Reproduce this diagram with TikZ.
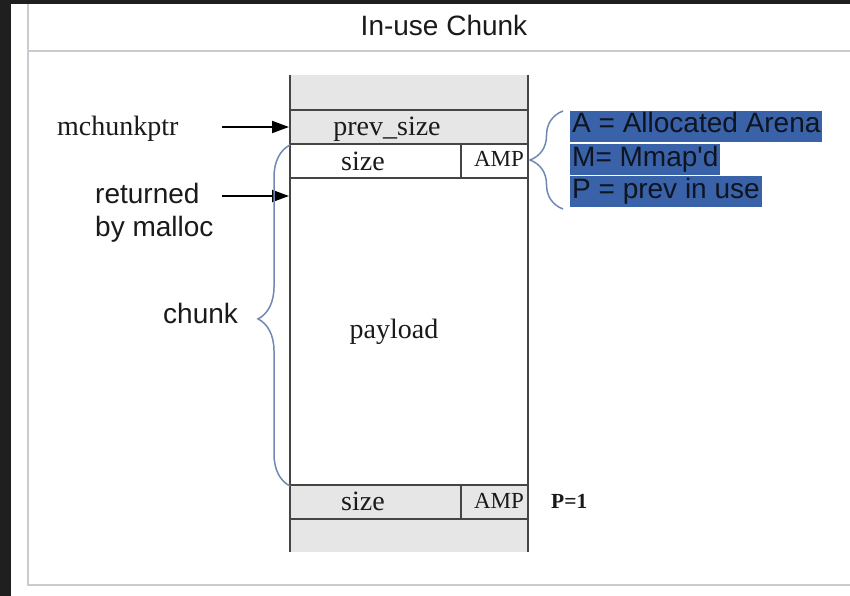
\documentclass[tikz,border=0pt]{standalone}
\usepackage{fontspec}
\setmainfont{Liberation Serif}
\newfontfamily\arialf{Liberation Sans}
\usetikzlibrary{arrows.meta,decorations.pathreplacing}
\definecolor{bgdark}{HTML}{1F1F1F}
\definecolor{panelgray}{HTML}{C8CBCF}
\definecolor{cellgray}{HTML}{E6E6E6}
\definecolor{collinec}{HTML}{454545}
\definecolor{bracecol}{HTML}{6F88B4}
\definecolor{hlblue}{HTML}{3A62A9}
\definecolor{hltext}{HTML}{0E1420}
\definecolor{txt}{HTML}{1A1A1A}
\begin{document}
\begin{tikzpicture}[x=1pt,y=-1pt,
  serifbig/.style={font=\fontsize{28}{30}\selectfont, text=txt, inner sep=0pt, anchor=base},
  serifamp/.style={font=\fontsize{23}{25}\selectfont, text=txt, inner sep=0pt, anchor=base},
  sanstxt/.style={font=\arialf\fontsize{28}{30}\selectfont, text=txt, inner sep=0pt, anchor=base west},
  hlbox/.style={font=\arialf\fontsize{28}{30}\selectfont, text=hltext, fill=hlblue, inner xsep=2pt, inner ysep=0pt, text height=22pt, text depth=9pt, anchor=base west},
  colline/.style={draw=collinec, line width=2.4pt},
  panelline/.style={draw=panelgray, line width=2pt},
  ptr/.style={draw=black, line width=2pt, -{Triangle[length=17pt,width=12pt]}},
  bracestyle/.style={draw=bracecol, line width=1.5pt, decorate}
]
\useasboundingbox (0,0) rectangle (850,596);
% background and panel
\fill[white] (0,0) rectangle (850,596);
\fill[bgdark] (0,0) rectangle (11,596);
\fill[bgdark] (0,0) rectangle (850,4);
\draw[panelline] (28,4) -- (28,585) -- (850,585);
\draw[panelline] (28,51) -- (850,51);
\node[font=\arialf\fontsize{28}{30}\selectfont, text=txt, inner sep=0pt, anchor=base] (title) at (444,36) {In-use Chunk};

% column fills
\fill[cellgray] (290,75) rectangle (528,144);
\fill[cellgray] (290,485) rectangle (528,552);
% column lines
\draw[colline] (290,75) -- (290,552);
\draw[colline] (528,75) -- (528,552);
\foreach \yy in {110,144,178,485,519} {
  \draw[colline] (290,\yy) -- (528,\yy);
}
\draw[colline] (461,144) -- (461,178);
\draw[colline] (461,485) -- (461,519);

% cell texts
\node[serifbig] (prevsize) at (387,136) {prev\_size};
\node[serifbig] (size1) at (363,170) {size};
\node[serifamp] (amp1) at (499,167) {AMP};
\node[serifbig] (payload) at (394,338) {payload};
\node[serifbig] (size2) at (363,510) {size};
\node[serifamp] (amp2) at (499,508) {AMP};
\node[font=\bfseries\fontsize{21.5}{23}\selectfont, text=txt, inner sep=0pt, anchor=base west] (p1) at (551,508) {P=1};

% left labels
\node[serifbig, anchor=base west] (mchunk) at (57,136) {mchunkptr};
\node[sanstxt] (ret1) at (95,203) {returned};
\node[sanstxt] (ret2) at (95,236) {by malloc};
\node[sanstxt] (chunk) at (163,323) {chunk};

% arrows
\coordinate (m1s) at (222,127);
\coordinate (m1e) at (289,127);
\coordinate (r1s) at (222,196);
\coordinate (r1e) at (289,196);
\draw[ptr] (m1s) -- (m1e);
\draw[ptr] (r1s) -- (r1e);

% braces
\draw[bracestyle, decoration={brace, amplitude=32pt, aspect=0.49}] (290,486) -- (290,145);
\draw[bracestyle, decoration={brace, amplitude=33pt, aspect=0.5}] (563,209) -- (563,111);

% highlighted legend
\node[hlbox] (legA) at (570,133) {A = Allocated Arena};
\node[hlbox] (legM) at (570,166) {M= Mmap'd};
\node[hlbox] (legP) at (570,198) {P = prev in use};
\end{tikzpicture}
\end{document}
